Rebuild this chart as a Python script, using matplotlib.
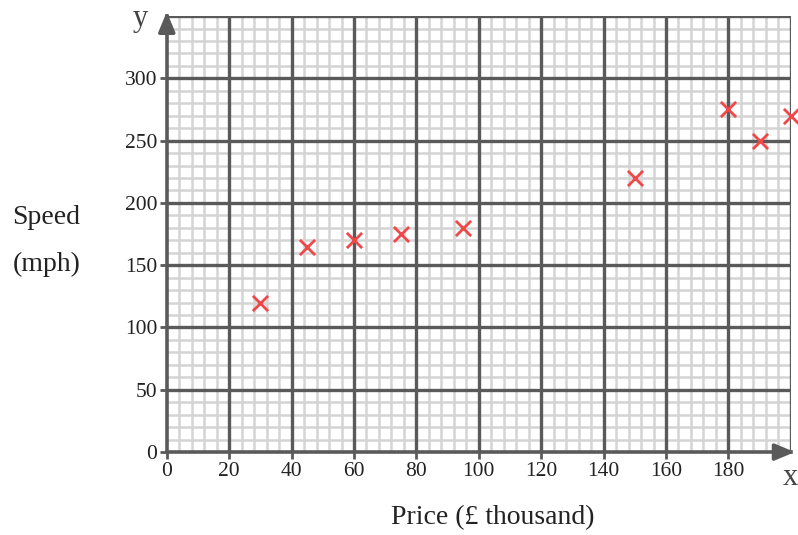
import numpy as np
import matplotlib.pyplot as plt

price = [30, 45, 60, 75, 95, 150, 180, 190, 200]
speed = [120, 165, 170, 175, 180, 220, 275, 250, 270]

x_ticks = [0, 20, 40, 60, 80, 100, 120, 140, 160, 180]
y_ticks = [0, 50, 100, 150, 200, 250, 300]

plt.rcParams["font.family"] = ["Liberation Serif", "DejaVu Serif"]

fig = plt.figure(figsize=(7.98, 5.35), dpi=100)
ax = fig.add_axes([0.209, 0.155, 0.782, 0.815])
ax.set_xlim(0, 200)
ax.set_ylim(0, 350)

# graph paper grid
for v in np.arange(4, 200, 4):
    if v % 20:
        ax.axvline(v, color="#d4d4d4", lw=1.8, zorder=1)
for v in np.arange(10, 350, 10):
    if v % 50:
        ax.axhline(v, color="#d4d4d4", lw=1.8, zorder=1)
for v in range(20, 201, 20):
    ax.axvline(v, color="#5a5a5a", lw=2.4, zorder=2)
for v in range(50, 351, 50):
    ax.axhline(v, color="#5a5a5a", lw=2.4, zorder=2)

for s in ["top", "right"]:
    ax.spines[s].set_visible(False)
for s in ["left", "bottom"]:
    ax.spines[s].set_color("#5a5a5a")
    ax.spines[s].set_linewidth(2.6)
    ax.spines[s].set_zorder(3)

ax.set_xticks(x_ticks)
ax.set_yticks(y_ticks)
ax.tick_params(length=5, width=2, color="#5a5a5a", labelsize=15.5, pad=2,
               labelcolor="#222222")

# axis arrows
ax.annotate("", xy=(1.011, 0), xycoords="axes fraction", xytext=(0.985, 0),
            arrowprops=dict(arrowstyle="-|>,head_length=1.2,head_width=0.5",
                            color="#5a5a5a", lw=2.6), annotation_clip=False)
ax.annotate("", xy=(0, 1.016), xycoords="axes fraction", xytext=(0, 0.985),
            arrowprops=dict(arrowstyle="-|>,head_length=1.2,head_width=0.5",
                            color="#5a5a5a", lw=2.6), annotation_clip=False)

ax.scatter(price, speed, marker="x", s=120, color="#f04848", linewidths=2,
           zorder=5, clip_on=False)

fig.text(0.176, 0.965, "y", fontsize=22, color="#444444", ha="center", va="center")
fig.text(0.99, 0.108, "x", fontsize=22, color="#444444", ha="center", va="center")
fig.text(0.058, 0.593, "Speed", fontsize=20, color="#222222", ha="center", va="center")
fig.text(0.058, 0.505, "(mph)", fontsize=20, color="#222222", ha="center", va="center")
fig.text(0.618, 0.032, "Price (£ thousand)", fontsize=20, color="#222222",
         ha="center", va="center")

fig.savefig("out.png", dpi=100)
